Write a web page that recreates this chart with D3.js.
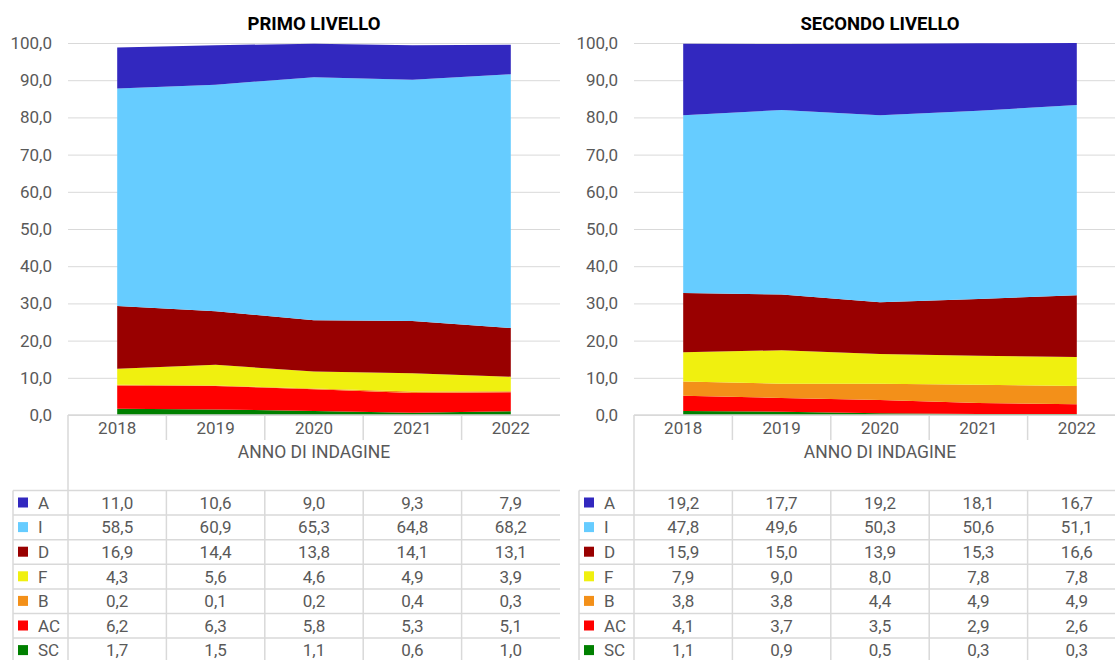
<!DOCTYPE html>
<html>
<head>
<meta charset="utf-8">
<script src="https://cdn.jsdelivr.net/npm/d3@7"></script>
<style>
  body { margin: 0; background: #fff; }
  svg { font-family: Roboto, "Liberation Sans", sans-serif; }
</style>
</head>
<body>
<div id="chart"></div>
<script>
// Data
const years = ['2018', '2019', '2020', '2021', '2022'];
const seriesKeys = ['A', 'I', 'D', 'F', 'B', 'AC', 'SC']; // table order, top to bottom
const seriesColors = ['#3228bf', '#66ccff', '#990000', '#f0f00f', '#f39019', '#ff0000', '#008000'];
const yTicks = [0, 10, 20, 30, 40, 50, 60, 70, 80, 90, 100];

const primoA  = [11.0, 10.6, 9.0, 9.3, 7.9];
const primoI  = [58.5, 60.9, 65.3, 64.8, 68.2];
const primoD  = [16.9, 14.4, 13.8, 14.1, 13.1];
const primoF  = [4.3, 5.6, 4.6, 4.9, 3.9];
const primoB  = [0.2, 0.1, 0.2, 0.4, 0.3];
const primoAC = [6.2, 6.3, 5.8, 5.3, 5.1];
const primoSC = [1.7, 1.5, 1.1, 0.6, 1.0];

const secondoA  = [19.2, 17.7, 19.2, 18.1, 16.7];
const secondoI  = [47.8, 49.6, 50.3, 50.6, 51.1];
const secondoD  = [15.9, 15.0, 13.9, 15.3, 16.6];
const secondoF  = [7.9, 9.0, 8.0, 7.8, 7.8];
const secondoB  = [3.8, 3.8, 4.4, 4.9, 4.9];
const secondoAC = [4.1, 3.7, 3.5, 2.9, 2.6];
const secondoSC = [1.1, 0.9, 0.5, 0.3, 0.3];

const panels = [
  { title: 'PRIMO LIVELLO', left: 68, right: 560, tableLeft: 13,
    values: [primoA, primoI, primoD, primoF, primoB, primoAC, primoSC] },
  { title: 'SECONDO LIVELLO', left: 634, right: 1126, tableLeft: 579,
    values: [secondoA, secondoI, secondoD, secondoF, secondoB, secondoAC, secondoSC] }
];

const width = 1115, height = 660;
const plotTop = 43, plotBottom = 415;
const rowTop = 490.5, rowH = 24.6;
const gridColor = '#d9d9d9';
const textColor = '#595959';

const it = d3.formatLocale({ decimal: ',', thousands: '.', grouping: [3], currency: ['€', ''] });
const fmt = it.format('.1f');

const svg = d3.select('#chart').append('svg')
  .attr('width', width)
  .attr('height', height);

const yScale = d3.scaleLinear().domain([0, 100]).range([plotBottom, plotTop]);

const drawPanel = (p) => {
  const g = svg.append('g');

  const xScale = d3.scaleBand().domain(years).range([p.left, p.right]);
  const cx = (yr) => xScale(yr) + xScale.bandwidth() / 2;

  // Gridlines + y labels
  g.append('g')
    .attr('transform', `translate(${p.left},0)`)
    .call(d3.axisLeft(yScale).tickValues(yTicks).tickSize(-(p.right - p.left)).tickPadding(16).tickFormat(fmt))
    .call((a) => a.select('.domain').remove())
    .call((a) => a.selectAll('line').attr('stroke', gridColor))
    .call((a) => a.selectAll('text').attr('fill', textColor).style('font-size', '17px').style('font-family', 'Roboto, sans-serif'));

  // Stacked areas
  const rows = years.map((yr, i) => {
    const r = { year: yr };
    seriesKeys.forEach((k, j) => { r[k] = p.values[j][i]; });
    return r;
  });
  const stackKeys = seriesKeys.slice().reverse();
  const stacked = d3.stack().keys(stackKeys)(rows);
  const area = d3.area()
    .x((d) => cx(d.data.year))
    .y0((d) => yScale(d[0]))
    .y1((d) => yScale(d[1]));

  g.append('g').selectAll('path')
    .data(stacked)
    .join('path')
    .attr('d', area)
    .attr('fill', (d) => seriesColors[seriesKeys.indexOf(d.key)]);

  // Title
  g.append('text')
    .attr('x', (p.left + p.right) / 2)
    .attr('y', 30)
    .attr('text-anchor', 'middle')
    .style('font-size', '18.5px')
    .style('font-weight', 'bold')
    .attr('fill', '#000')
    .text(p.title);

  // Axis line + category labels
  const lineH = (x1, x2, y) => g.append('line')
    .attr('x1', x1).attr('x2', x2).attr('y1', y).attr('y2', y)
    .attr('stroke', gridColor).attr('stroke-width', 1.5);
  const lineV = (x, y1, y2) => g.append('line')
    .attr('x1', x).attr('x2', x).attr('y1', y1).attr('y2', y2)
    .attr('stroke', gridColor).attr('stroke-width', 1.5);

  lineH(p.left, p.right, plotBottom);
  lineV(p.left, plotBottom, height);
  years.slice(1).forEach((yr) => {
    lineV(xScale(yr), plotBottom, plotBottom + 25);
    lineV(xScale(yr), rowTop, height);
  });

  g.append('g').selectAll('text')
    .data(years)
    .join('text')
    .attr('x', cx)
    .attr('y', plotBottom + 19)
    .attr('text-anchor', 'middle')
    .attr('fill', textColor)
    .style('font-size', '17px')
    .text((d) => d);

  g.append('text')
    .attr('x', (p.left + p.right) / 2)
    .attr('y', plotBottom + 43)
    .attr('text-anchor', 'middle')
    .attr('fill', textColor)
    .style('font-size', '17.5px')
    .text('ANNO DI INDAGINE');

  // Data table
  lineV(p.tableLeft, rowTop, height);
  seriesKeys.forEach((k, j) => {
    const y0 = rowTop + j * rowH;
    lineH(p.tableLeft, p.right, y0);
    g.append('rect')
      .attr('x', p.tableLeft + 5)
      .attr('y', y0 + 7)
      .attr('width', 10)
      .attr('height', 10)
      .attr('fill', seriesColors[j]);
    g.append('text')
      .attr('x', p.tableLeft + 25)
      .attr('y', y0 + 18.3)
      .attr('fill', textColor)
      .style('font-size', '17px')
      .text(k);
    g.append('g').selectAll('text')
      .data(p.values[j])
      .join('text')
      .attr('x', (d, i) => cx(years[i]))
      .attr('y', y0 + 18.3)
      .attr('text-anchor', 'middle')
      .attr('fill', textColor)
      .style('font-size', '17px')
      .text((d) => fmt(d));
  });
};

panels.forEach(drawPanel);
</script>
</body>
</html>
